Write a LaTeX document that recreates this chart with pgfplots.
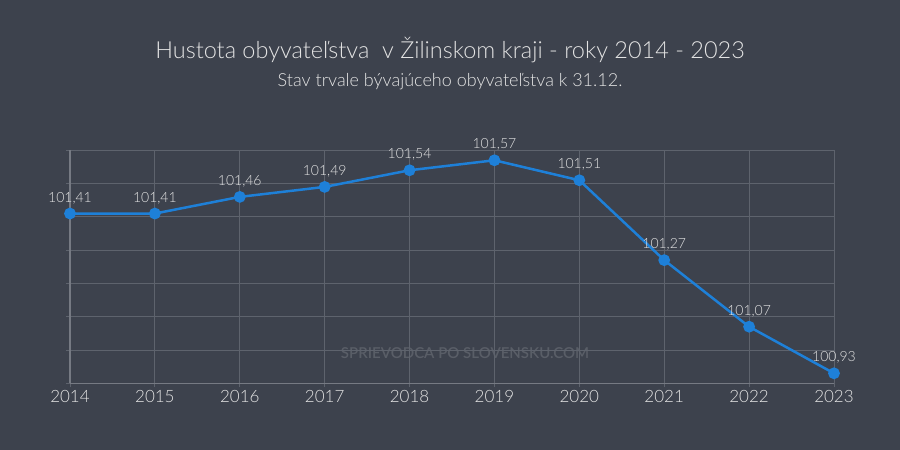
\documentclass[border=0pt]{standalone}
\usepackage{pgfplots}
\pgfplotsset{compat=1.18}
\usepackage{fontspec}
\setmainfont{Lato}[UprightFont=* Light]
\definecolor{bg}{HTML}{3D424D}
\definecolor{grd}{HTML}{5E636D}
\definecolor{ln}{HTML}{1E80D8}
\definecolor{txt}{HTML}{E4E4E4}

\begin{document}
\begin{tikzpicture}[x=1pt,y=1pt]
\fill[bg] (0,0) rectangle (900,450);
\node[txt, font=\fontsize{23.5}{28}\selectfont] at (450,400) {Hustota obyvateľstva\ \ v Žilinskom kraji - roky 2014 - 2023};
\node[txt, font=\fontsize{18}{21}\selectfont] at (450,368) {Stav trvale bývajúceho obyvateľstva k 31.12.};
\node[white, opacity=0.15, font=\fontsize{15}{17}\selectfont\bfseries] at (465,97) {SPRIEVODCA PO SLOVENSKU.COM};
\begin{axis}[
  at={(70pt,66.7pt)}, anchor=south west,
  scale only axis, width=764pt, height=233pt,
  clip=false,
  xmin=2014, xmax=2023, ymin=100.9, ymax=101.6,
  xtick={2014,2015,...,2023},
  ytick={100.9,101.0,101.1,101.2,101.3,101.4,101.5,101.6},
  yticklabels={},
  axis x line*=bottom, axis y line*=left,
  axis line style={grd!85!white, line width=1.2pt},
  tick align=outside, major tick length=4pt,
  tick style={grd, line width=0.9pt},
  grid=major, major grid style={grd, line width=0.9pt},
  /pgf/number format/1000 sep={},
  /pgf/number format/assume math mode=true,
  x tick label style={txt, font=\fontsize{17}{20}\selectfont},
]
\addplot[ln, line width=2.5pt, mark=*, mark size=4.6pt, mark options={ln},
  nodes near coords={\pgfmathprintnumber[use comma,fixed,fixed zerofill,precision=2]{\pgfplotspointmeta}},
  every node near coord/.append style={txt, font=\fontsize{14}{16}\selectfont, yshift=5pt}]
coordinates {(2014,101.41) (2015,101.41) (2016,101.46) (2017,101.49) (2018,101.54)
  (2019,101.57) (2020,101.51) (2021,101.27) (2022,101.07) (2023,100.93)};
\end{axis}
\end{tikzpicture}
\end{document}
